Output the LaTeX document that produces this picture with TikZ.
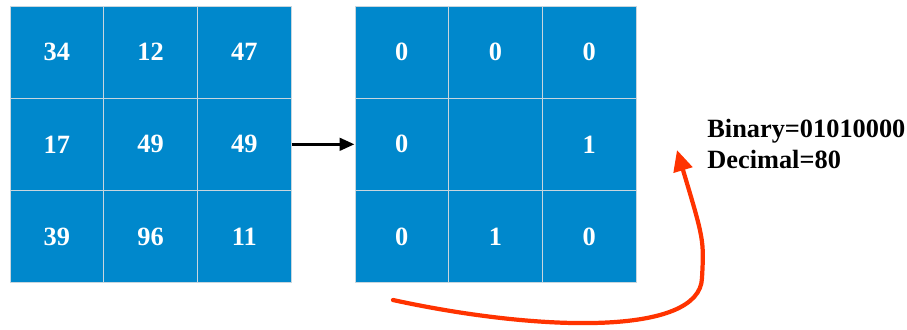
\documentclass[tikz,border=0pt]{standalone}
\usepackage{fontspec}
\setmainfont{Liberation Serif}
\usepackage{tikz}
\usetikzlibrary{arrows.meta}
\definecolor{cellblue}{HTML}{0088CC}
\definecolor{gridline}{HTML}{C8D6DE}
\definecolor{curvered}{HTML}{FF3300}
\tikzstyle{cell} = [draw=gridline, line width=0.5pt, fill=cellblue, text=white, minimum width=1.874cm, minimum height=1.846cm, inner sep=0pt, font=\fontsize{15}{18}\selectfont\bfseries]
\tikzstyle{arrow} = [line width=1.8pt,-{Triangle[length=0.3cm,width=0.25cm]}]
\tikzstyle{label} = [anchor=base west, inner sep=0pt, font=\fontsize{15}{18}\selectfont\bfseries]

\begin{document}
\begin{tikzpicture}[x=0.02cm, y=-0.02cm]
            \useasboundingbox (0,0) rectangle (907,329);
            % neighbourhood values
            \node[cell] (l11) at (56.8,52.2) {34};
            \node[cell] (l12) at (150.5,52.2) {12};
            \node[cell] (l13) at (244.3,52.2) {47};
            \node[cell] (l21) at (56.8,144.3) {17};
            \node[cell] (l22) at (150.5,144.3) {49};
            \node[cell] (l23) at (244.3,144.3) {49};
            \node[cell] (l31) at (56.8,236.4) {39};
            \node[cell] (l32) at (150.5,236.4) {96};
            \node[cell] (l33) at (244.3,236.4) {11};
            % thresholded pattern
            \node[cell] (r11) at (401.8,52.2) {0};
            \node[cell] (r12) at (495.5,52.2) {0};
            \node[cell] (r13) at (589.3,52.2) {0};
            \node[cell] (r21) at (401.8,144.3) {0};
            \node[cell] (r22) at (495.5,144.3) {};
            \node[cell] (r23) at (589.3,144.3) {1};
            \node[cell] (r31) at (401.8,236.4) {0};
            \node[cell] (r32) at (495.5,236.4) {1};
            \node[cell] (r33) at (589.3,236.4) {0};
            \node[label] (bin) at (707,137) {Binary=01010000};
            \node[label] (dec) at (707,168) {Decimal=80};
            \coordinate (cs) at (393,300);
            \coordinate (ce) at (677,150);
            \draw[arrow] (l23) -- (r21);
            \draw[curvered, line width=2.4pt, line cap=round, -{Triangle[length=0.42cm,width=0.38cm]}] (cs) .. controls (540,332) and (700,336) .. (702,278) .. controls (704,240) .. (ce);
        \end{tikzpicture}
\end{document}
